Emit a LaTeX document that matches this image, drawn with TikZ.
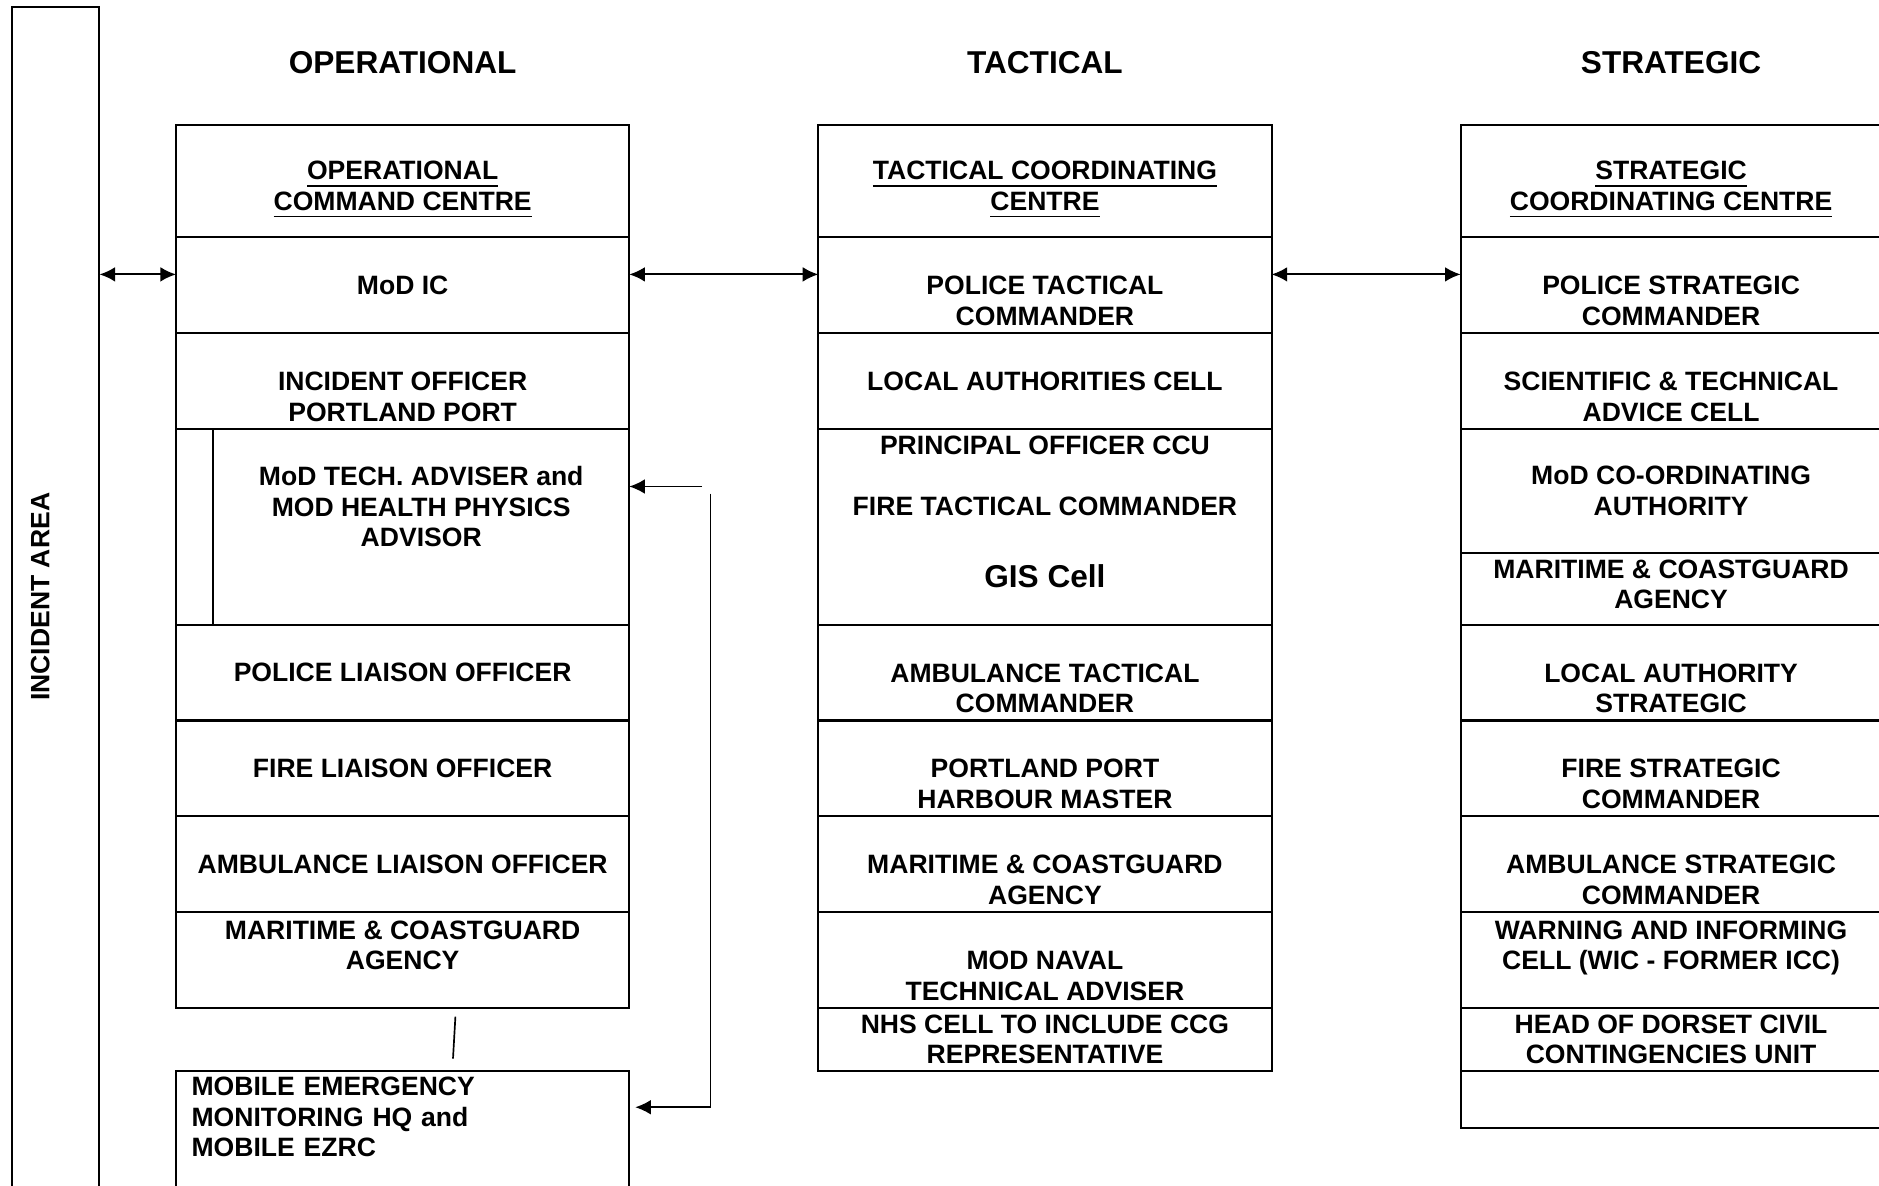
\documentclass[tikz,border=0pt]{standalone}
\usepackage{fontspec}
\setmainfont{Liberation Sans}
\usepackage{graphicx}
\usetikzlibrary{shapes,arrows.meta,positioning}

\begin{document}
\begin{tikzpicture}[x=0.01cm, y=-0.01cm, >={Latex[length=3.7pt, width=3.5pt]},
        cell/.style={draw, rectangle, line width=0.48pt, outer sep=0pt, inner sep=0pt, align=center,
                     minimum width=3.78cm, minimum height=0.8cm, font=\fontsize{6.3}{7.25}\selectfont\bfseries},
        scell/.style={cell, minimum width=3.51cm},
        head/.style={inner sep=0pt, font=\fontsize{7.5}{9}\selectfont\bfseries},
        link/.style={<->, line width=0.48pt},
        thinline/.style={line width=0.4pt}]

        \useasboundingbox (0,0) rectangle (1568,989);

        % Incident area
        \node [cell, minimum width=0.73cm, minimum height=9.84cm] (incident) at (46.5,498) {\rotatebox{90}{INCIDENT AREA}\hspace{0.26cm}};

        % Operational
        \node [cell, minimum height=0.94cm] (opcc) at (336,151) {~\\[1.5pt]\underline{OPERATIONAL}\\\underline{COMMAND CENTRE}};
        \node [cell, below=0pt of opcc] (opmod) {MoD IC};
        \node [cell, below=0pt of opmod] (opinc) {\strut\\[-0.5pt]INCIDENT OFFICER\\PORTLAND PORT};
        \node [cell, anchor=north west, minimum width=0.31cm, minimum height=1.63cm] (opgap) at (opinc.south west) {};
        \node [cell, right=0pt of opgap, minimum width=3.47cm, minimum height=1.63cm] (optech) {MoD TECH. ADVISER and\\MOD HEALTH PHYSICS\\ADVISOR\\[2.45pt]~};
        \node [cell, anchor=north west] (oppolice) at (opgap.south west) {POLICE LIAISON OFFICER};
        \node [cell, below=0pt of oppolice] (opfire) {FIRE LIAISON OFFICER};
        \node [cell, below=0pt of opfire] (opamb) {AMBULANCE LIAISON OFFICER};
        \node [cell, below=0pt of opamb] (opmca) {MARITIME \& COASTGUARD\\AGENCY\\~};
        \node [cell, below=0.52cm of opmca, minimum height=1.03cm, align=left, text width=3.52cm, inner xsep=0.13cm] (mobile) {MOBILE EMERGENCY\\MONITORING HQ and\\MOBILE EZRC\\~};

        % Tactical
        \node [cell, minimum height=0.94cm] (tactcc) at (872,151) {~\\[1.5pt]\underline{TACTICAL COORDINATING}\\\underline{CENTRE}};
        \node [cell, below=0pt of tactcc] (tactpol) {\strut\\[-0.5pt]POLICE TACTICAL\\COMMANDER};
        \node [cell, below=0pt of tactpol] (tactla) {LOCAL AUTHORITIES CELL};
        \node [cell, below=0pt of tactla, minimum height=1.63cm] (tactfire) {PRINCIPAL OFFICER CCU\\[7.25pt]FIRE TACTICAL COMMANDER\\[9.65pt]{\fontsize{7.5}{9}\selectfont GIS Cell}\\~};
        \node [cell, below=0pt of tactfire] (tactamb) {\strut\\[-0.5pt]AMBULANCE TACTICAL\\COMMANDER};
        \node [cell, below=0pt of tactamb] (tactport) {\strut\\[-0.5pt]PORTLAND PORT\\HARBOUR MASTER};
        \node [cell, below=0pt of tactport] (tactmca) {\strut\\[-0.5pt]MARITIME \& COASTGUARD\\AGENCY};
        \node [cell, below=0pt of tactmca] (tactnav) {\strut\\[-0.5pt]MOD NAVAL\\TECHNICAL ADVISER};
        \node [cell, below=0pt of tactnav, minimum height=0.52cm] (tactnhs) {NHS CELL TO INCLUDE CCG\\REPRESENTATIVE};

        % Strategic
        \node [scell, minimum height=0.94cm] (stratcc) at (1394.5,151) {~\\[1.5pt]\underline{STRATEGIC}\\\underline{COORDINATING CENTRE}};
        \node [scell, below=0pt of stratcc] (stratpol) {\strut\\[-0.5pt]POLICE STRATEGIC\\COMMANDER};
        \node [scell, below=0pt of stratpol] (stratsci) {\strut\\[-0.5pt]SCIENTIFIC \& TECHNICAL\\ADVICE CELL};
        \node [scell, below=0pt of stratsci, minimum height=1.03cm] (stratmod) {MoD CO-ORDINATING\\AUTHORITY};
        \node [scell, below=0pt of stratmod, minimum height=0.6cm] (stratmca) {MARITIME \& COASTGUARD\\AGENCY\\[-5.25pt]~};
        \node [scell, below=0pt of stratmca] (stratla) {\strut\\[-0.5pt]LOCAL AUTHORITY\\STRATEGIC};
        \node [scell, below=0pt of stratla] (stratfire) {\strut\\[-0.5pt]FIRE STRATEGIC\\COMMANDER};
        \node [scell, below=0pt of stratfire] (stratamb) {\strut\\[-0.5pt]AMBULANCE STRATEGIC\\COMMANDER};
        \node [scell, below=0pt of stratamb] (stratwic) {WARNING AND INFORMING\\CELL (WIC - FORMER ICC)\\~};
        \node [scell, below=0pt of stratwic, minimum height=0.52cm] (stratccu) {HEAD OF DORSET CIVIL\\CONTINGENCIES UNIT};
        \node [scell, below=0pt of stratccu, minimum height=0.48cm] (stratblank) {};

        % Titles
        \node [head, above=0.415cm of opcc] (ophead) {OPERATIONAL};
        \node [head, above=0.415cm of tactcc] (tacthead) {TACTICAL};
        \node [head, above=0.415cm of stratcc] (strathead) {STRATEGIC};

        % Links
        \coordinate (linky) at (0,229);
        \draw [link] (incident.east |- linky) -- (opmod.west |- linky);
        \draw [link] (opmod.east |- linky) -- (tactpol.west |- linky);
        \draw [link] (tactpol.east |- linky) -- (stratpol.west |- linky);

        % Feedback to the operational side
        \coordinate (fbhook) at (586,406);
        \coordinate (fbtop) at (593,412);
        \coordinate (fbbot) at (593,924);
        \draw [->, thinline] (fbhook) -- (fbhook -| optech.east);
        \draw [->, thinline, shorten >=0.05cm] (fbtop) -- (fbbot) -- (fbbot -| mobile.east);
        \draw [thinline] ([xshift=0.44cm, yshift=-0.07cm]opmca.south) -- ([xshift=0.42cm, yshift=0.1cm]mobile.north);

\end{tikzpicture}
\end{document}
